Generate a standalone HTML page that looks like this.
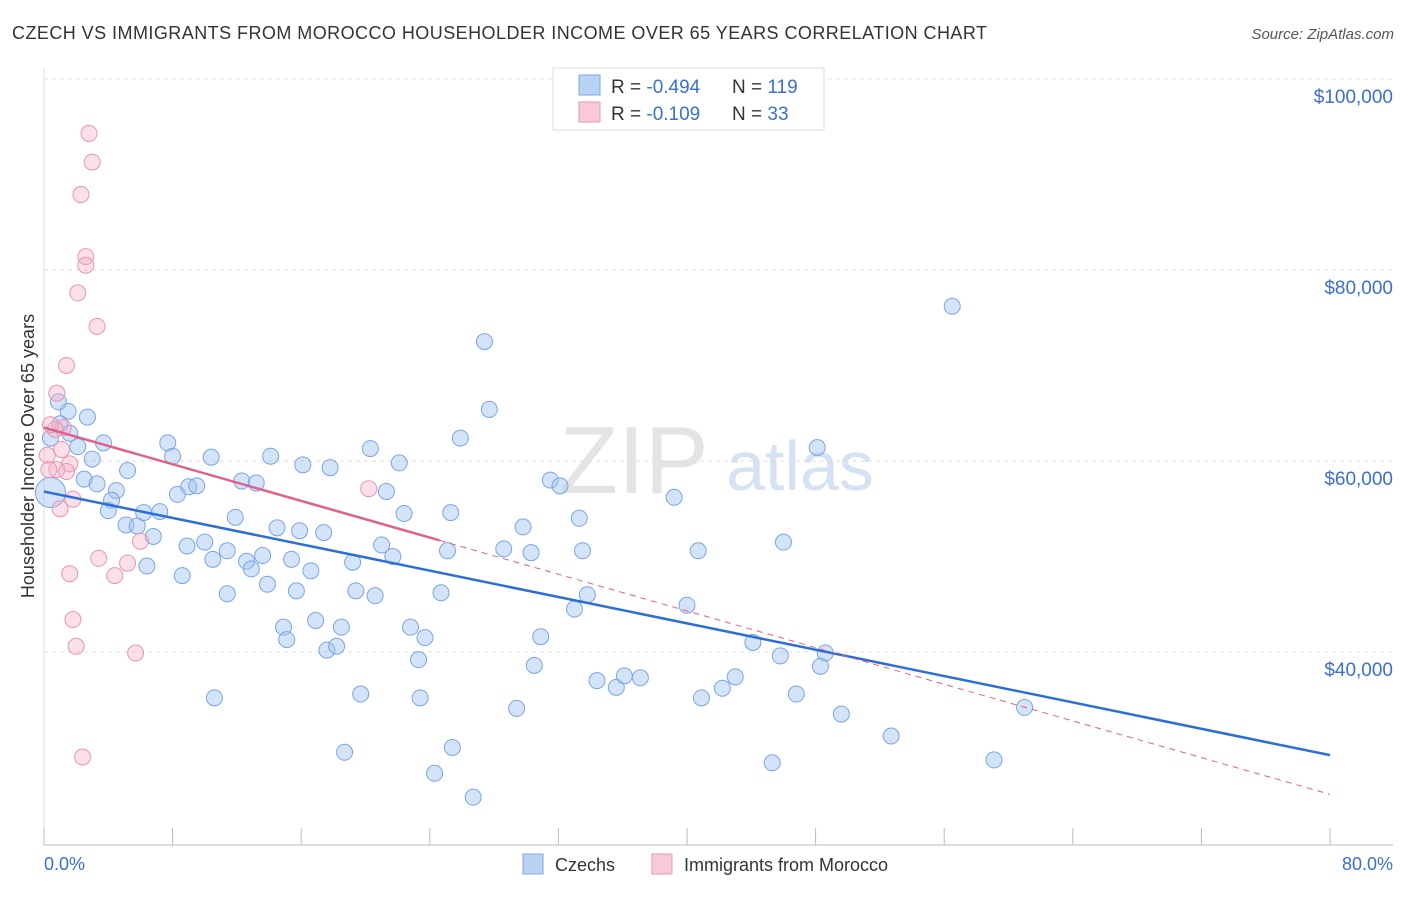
<!DOCTYPE html>
<html><head><meta charset="utf-8"><style>
body{margin:0;background:#fff;font-family:"Liberation Sans",sans-serif;}
svg text{font-family:"Liberation Sans",sans-serif;}
</style></head><body>
<svg id="chart" width="1406" height="892">
<text x="12" y="39" font-size="18" fill="#333" textLength="975" lengthAdjust="spacing">CZECH VS IMMIGRANTS FROM MOROCCO HOUSEHOLDER INCOME OVER 65 YEARS CORRELATION CHART</text>
<text x="1394" y="39" font-size="15" fill="#555" font-style="italic" text-anchor="end">Source: ZipAtlas.com</text>
<text x="634" y="493" font-size="96" fill="#e4e4e4" font-family="Liberation Serif" text-anchor="middle">ZIP</text>
<text x="800" y="490" font-size="70" fill="#d4e2f4" text-anchor="middle">atlas</text>
<g id="grid"></g><g id="axes"></g><g id="marks"></g>
<text transform="translate(34,456) rotate(-90)" font-size="18" fill="#333" text-anchor="middle">Householder Income Over 65 years</text>
<text x="44" y="870" font-size="18" fill="#3a6fd0">0.0%</text>
<text x="1393" y="870" font-size="18" fill="#3a6fd0" text-anchor="end">80.0%</text>
<g>
<rect x="523" y="854" width="20" height="20" fill="#b9d3f5" stroke="#7aa7e3"/>
<text x="555" y="871" font-size="18" fill="#333">Czechs</text>
<rect x="652" y="854" width="20" height="20" fill="#f9c9d8" stroke="#e897b3"/>
<text x="684" y="871" font-size="18" fill="#333">Immigrants from Morocco</text>
</g>
<g>
<rect x="553" y="68" width="271" height="62" fill="#fff" stroke="#ddd"/>
<rect x="579" y="75" width="21" height="20" fill="#b9d3f5" stroke="#7aa7e3"/>
<rect x="579" y="102" width="21" height="20" fill="#f9c9d8" stroke="#e897b3"/>
<text x="611" y="93" font-size="19" fill="#333">R = <tspan fill="#3a6fd0">-0.494</tspan><tspan x="732">N = </tspan><tspan fill="#3a6fd0">119</tspan></text>
<text x="611" y="120" font-size="19" fill="#333">R = <tspan fill="#3a6fd0"> -0.109</tspan><tspan x="732">N = </tspan><tspan fill="#3a6fd0"> 33</tspan></text>
</g>
</svg>
<script>
const yTicks=[100000,80000,60000,40000];
const yTickLabels=["$100,000","$80,000","$60,000","$40,000"];
const xTicks=[0,8,16,24,32,40,48,56,64,72,80];
const czechX=[27.4,56.5,27.7,25.9,20.3,48.1,22.1,16.1,17.8,14.1,10.4,7.7,8.0,3.7,3.0,2.1,1.5,2.7,0.9,1.0,1.6,0.4,2.5,3.3,5.2,4.5,4.2,4.0,5.1,5.8,6.2,7.2,6.8,6.4,8.6,8.3,9.0,9.5,12.3,13.2,11.9,14.5,15.9,17.4,15.4,13.6,12.6,12.9,11.4,10.5,10.0,8.9,11.4,13.9,15.7,16.6,19.2,19.4,20.6,21.0,21.7,21.3,22.4,25.3,24.7,22.8,23.7,23.3,25.1,28.6,30.3,29.8,31.5,32.1,33.3,33.5,33.8,33.0,30.9,30.5,29.4,34.4,35.6,36.1,37.1,39.2,40.7,40.0,40.9,42.2,43.0,44.1,45.8,46.0,48.6,48.3,46.8,49.6,52.7,61.0,59.1,45.3,26.7,24.3,25.4,18.7,23.4,19.7,10.6,14.9,15.1,16.9,18.5,17.6,18.2,0.4];
const czechY=[72.5,76.2,65.4,62.4,61.3,61.4,59.8,59.6,59.3,60.5,60.4,61.9,60.5,61.9,60.2,61.5,65.2,64.6,66.2,63.9,62.9,62.4,58.1,57.6,59.0,56.9,55.9,54.8,53.3,53.2,54.6,54.7,52.1,49.0,48.0,56.5,57.3,57.4,57.9,57.7,54.1,53.0,52.7,52.5,49.7,50.1,49.5,48.7,50.6,49.7,51.5,51.1,46.1,47.1,46.4,48.5,49.4,46.4,45.9,51.2,50.0,56.8,54.5,54.6,46.2,42.6,41.5,39.2,50.6,50.8,50.4,53.1,58.0,57.4,54.0,50.6,46.0,44.5,41.6,38.6,34.1,37.0,36.3,37.5,37.3,56.2,50.6,44.9,35.2,36.2,37.4,41.0,39.6,51.5,39.9,38.5,35.6,33.5,31.2,34.2,28.7,28.4,24.8,27.3,30.0,29.5,35.2,35.6,35.2,42.6,41.3,43.3,42.6,40.2,40.6,56.7];
const moroccoX=[2.8,3.0,2.3,2.6,2.6,2.1,3.3,1.4,0.8,1.2,0.7,0.4,1.1,0.2,1.6,0.8,1.4,0.3,1.8,1.0,20.2,6.0,5.2,3.4,1.6,4.4,1.8,2.0,5.7,2.4];
const moroccoY=[94.3,91.3,87.9,81.4,80.5,77.6,74.1,70.0,67.1,63.5,63.3,63.8,61.2,60.6,59.7,59.1,58.9,59.1,56.0,55.0,57.1,51.6,49.3,49.8,48.2,48.0,43.4,40.6,39.9,29.0];
const czechTrend=[56.8,29.2];
const moroccoTrend=[63.5,25.1];
const moroccoSolidEnd=24.6;

const NS="http://www.w3.org/2000/svg";
const X0=44,X1=1330,Y100=79,PXK=191/20;
const xs=v=>X0+(v/80)*(X1-X0);
const ys=v=>Y100+(100-v)*PXK;
function el(t,a,p){const e=document.createElementNS(NS,t);for(const k in a)e.setAttribute(k,a[k]);document.getElementById(p).appendChild(e);return e;}
yTicks.forEach((t,i)=>{
  const y=ys(t/1000);
  const g=el('line',{x1:44,x2:1393,y1:y,y2:y,stroke:'#ddd','stroke-dasharray':'4,4'},'grid');
  
  
  const l=el('text',{x:1393,y:y+24,'font-size':19,fill:'#3a6fd0','text-anchor':'end'},'grid');
  l.textContent=yTickLabels[i];
  
  
});
const ax=el('line',{x1:44,x2:1393,y1:845,y2:845,stroke:'#bbb'},'axes');


const ay=el('line',{x1:44,x2:44,y1:68,y2:845,stroke:'#ddd'},'axes');


xTicks.forEach(t=>{
  const k=el('line',{x1:xs(t),x2:xs(t),y1:828,y2:845,stroke:'#bbb'},'axes');
  
  
});
czechX.forEach((x,i)=>{
  const big=i===czechX.length-1;
  const c=el('circle',{cx:xs(x),cy:ys(czechY[i]),r:big?15:8,fill:'rgba(160,195,240,0.45)',stroke:'#7aa5e2','stroke-width':1},'marks');
  
  
});
moroccoX.forEach((x,i)=>{
  const c=el('circle',{cx:xs(x),cy:ys(moroccoY[i]),r:8,fill:'rgba(245,175,200,0.4)',stroke:'#e895b2','stroke-width':1},'marks');
  
  
});
const bt=el('line',{x1:xs(0),y1:ys(czechTrend[0]),x2:xs(80),y2:ys(czechTrend[1]),stroke:'#2a6fd6','stroke-width':2.5},'marks');


const mAt=x=>moroccoTrend[0]+(moroccoTrend[1]-moroccoTrend[0])*x/80;
const pt=el('line',{x1:xs(0),y1:ys(mAt(0)),x2:xs(moroccoSolidEnd),y2:ys(mAt(moroccoSolidEnd)),stroke:'#e0608a','stroke-width':2.5},'marks');


const pd=el('line',{x1:xs(moroccoSolidEnd),y1:ys(mAt(moroccoSolidEnd)),x2:xs(80),y2:ys(mAt(80)),stroke:'#e0608a','stroke-width':1,'stroke-dasharray':'6,5'},'marks');


</script>
</body></html>
